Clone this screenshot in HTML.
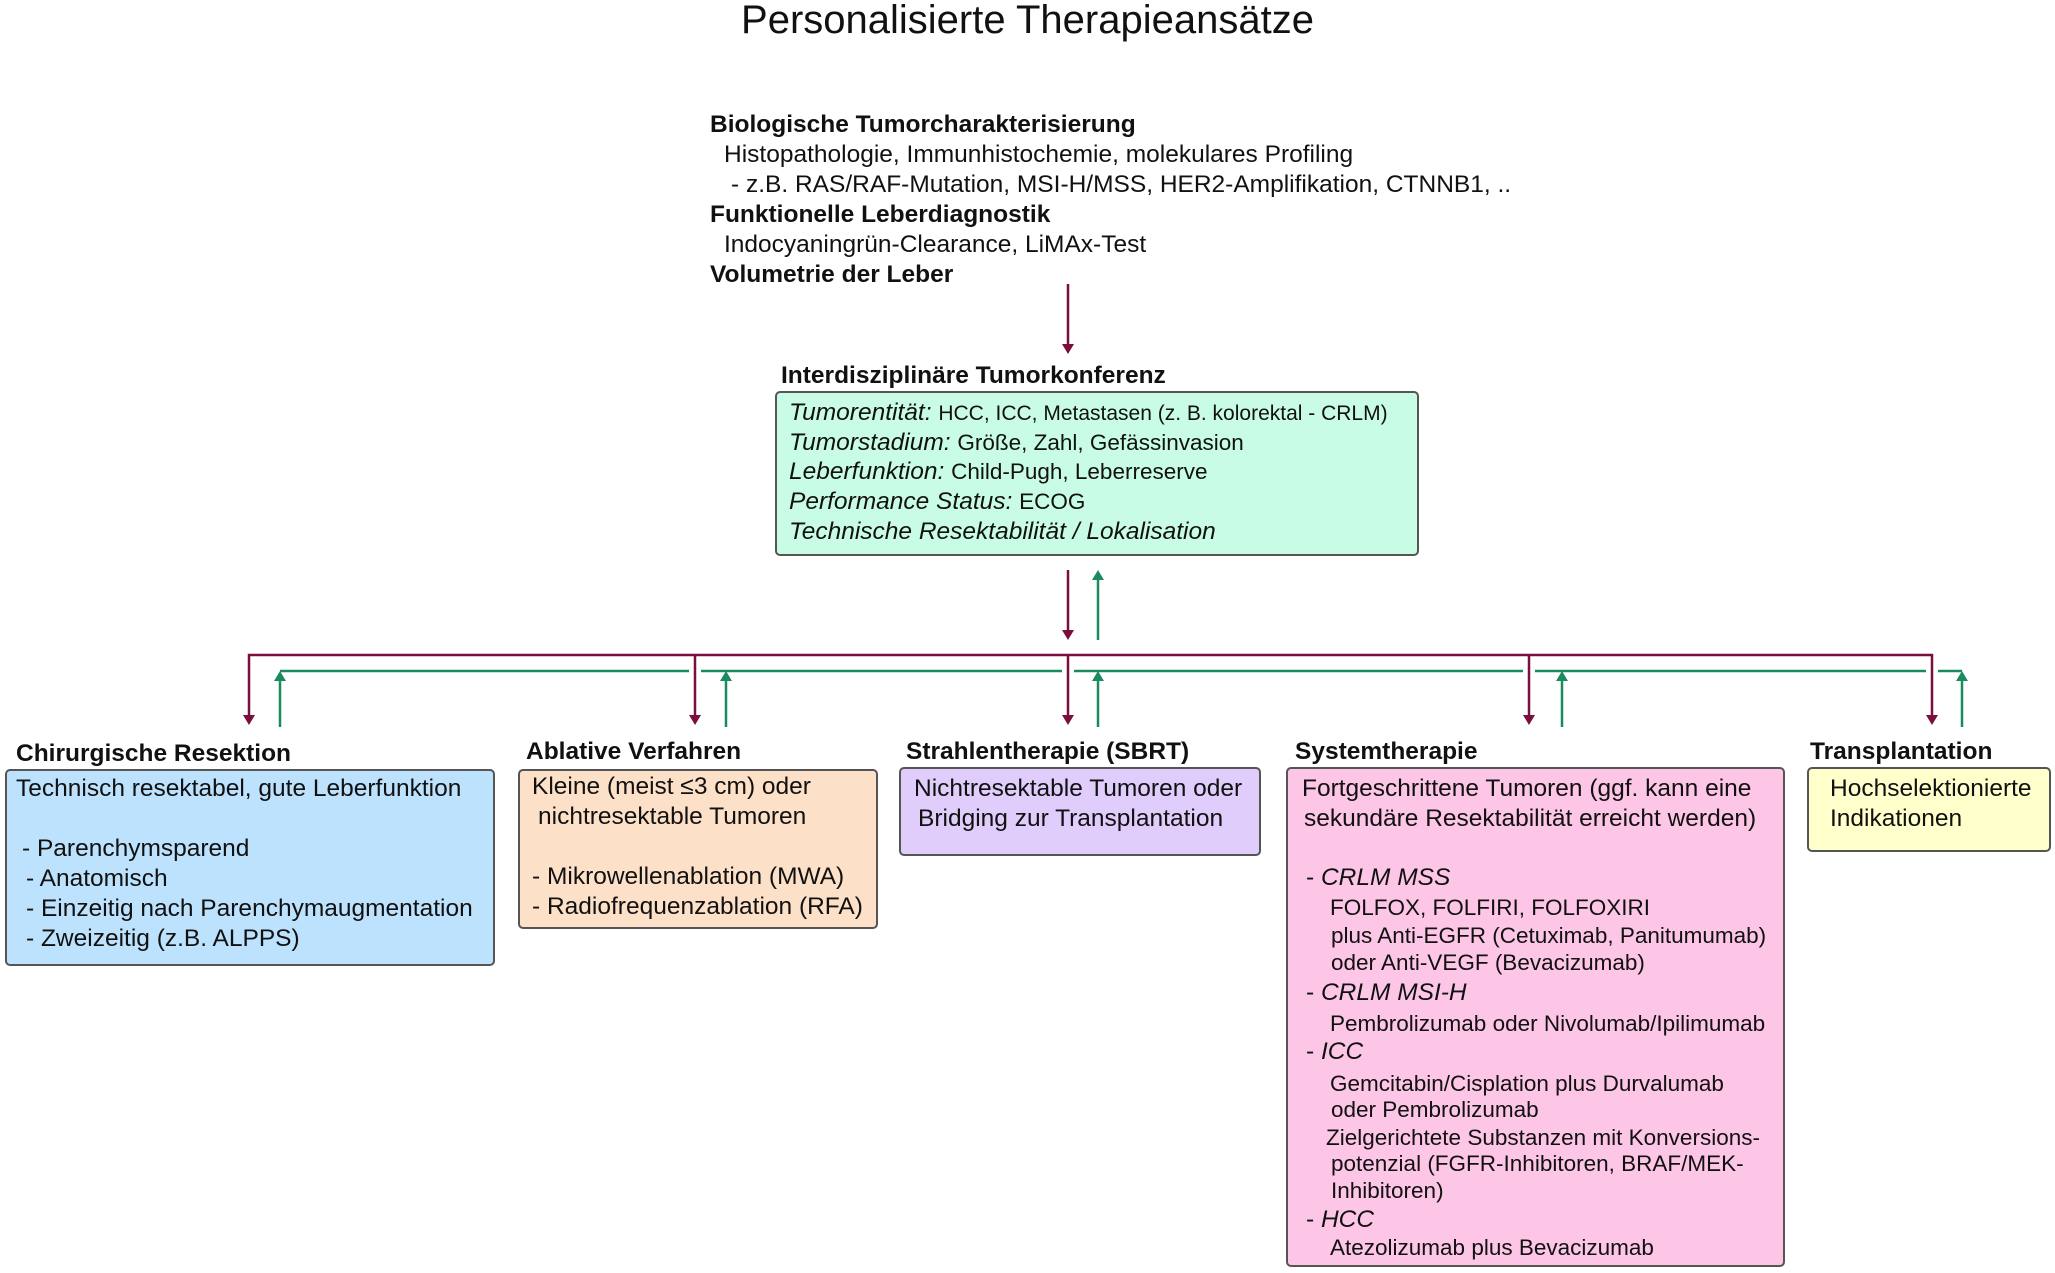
<!DOCTYPE html>
<html><head><meta charset="utf-8"><style>
body{margin:0;width:2055px;height:1273px;background:#fff;position:relative;overflow:hidden;font-family:"Liberation Sans",Arial,sans-serif;color:#111}
.a{position:absolute;white-space:nowrap}
.t{font-size:24.5px;line-height:30px}
.b{font-weight:bold}
.box{position:absolute;border:2px solid #555;border-radius:5px;box-sizing:border-box}
.s{font-size:22.5px}
i{font-style:italic}
</style></head><body>
<div class="a" style="left:0;width:2055px;text-align:center;top:-3px;font-size:40px;line-height:46px;">Personalisierte Therapieansätze</div>

<div class="a t b" style="left:710px;top:110px">Biologische Tumorcharakterisierung</div>
<div class="a t" style="left:724px;top:140px">Histopathologie, Immunhistochemie, molekulares Profiling</div>
<div class="a t" style="left:731px;top:170px">- z.B. RAS/RAF-Mutation, MSI-H/MSS, HER2-Amplifikation, CTNNB1, ..</div>
<div class="a t b" style="left:710px;top:200px">Funktionelle Leberdiagnostik</div>
<div class="a t" style="left:724px;top:230px">Indocyaningrün-Clearance, LiMAx-Test</div>
<div class="a t b" style="left:710px;top:260px">Volumetrie der Leber</div>

<svg class="a" style="left:0;top:0" width="2055" height="1273">
<g stroke="#7a0f3e" stroke-width="2.5" fill="none">
<line x1="1068" y1="284" x2="1068" y2="346"/>
<line x1="1068" y1="570" x2="1068" y2="632"/>
<polyline points="249,717 249,655 1932,655 1932,717"/>
<line x1="695" y1="655" x2="695" y2="717"/>
<line x1="1068" y1="655" x2="1068" y2="717"/>
<line x1="1529" y1="655" x2="1529" y2="717"/>
</g>
<g fill="#7a0f3e">
<polygon points="1062,344 1074,344 1068,354"/>
<polygon points="1062,630 1074,630 1068,640"/>
<polygon points="243,715 255,715 249,725"/>
<polygon points="689,715 701,715 695,725"/>
<polygon points="1062,715 1074,715 1068,725"/>
<polygon points="1523,715 1535,715 1529,725"/>
<polygon points="1926,715 1938,715 1932,725"/>
</g>
<g stroke="#1b8a5c" stroke-width="2.5" fill="none">
<line x1="1098" y1="640" x2="1098" y2="578"/>
<line x1="280" y1="671" x2="689" y2="671"/>
<line x1="701" y1="671" x2="1062" y2="671"/>
<line x1="1074" y1="671" x2="1523" y2="671"/>
<line x1="1535" y1="671" x2="1926" y2="671"/>
<line x1="1938" y1="671" x2="1962" y2="671"/>
<line x1="280" y1="727" x2="280" y2="679"/>
<line x1="726" y1="727" x2="726" y2="679"/>
<line x1="1098" y1="727" x2="1098" y2="679"/>
<line x1="1562" y1="727" x2="1562" y2="679"/>
<line x1="1962" y1="727" x2="1962" y2="679"/>
</g>
<g fill="#1b8a5c">
<polygon points="1092,580 1104,580 1098,570"/>
<polygon points="274,681 286,681 280,671"/>
<polygon points="720,681 732,681 726,671"/>
<polygon points="1092,681 1104,681 1098,671"/>
<polygon points="1556,681 1568,681 1562,671"/>
<polygon points="1956,681 1968,681 1962,671"/>
</g>
</svg>

<div class="a t b" style="left:781px;top:361px">Interdisziplinäre Tumorkonferenz</div>
<div class="box" style="left:775px;top:391px;width:644px;height:165px;background:#c8fce4"></div>
<div class="a t" style="left:789px;top:398px"><i>Tumorentität:</i> <span class="s" style="font-size:21px">HCC, ICC, Metastasen (z. B. kolorektal - CRLM)</span></div>
<div class="a t" style="left:789px;top:428px"><i>Tumorstadium:</i> <span class="s">Größe, Zahl, Gefässinvasion</span></div>
<div class="a t" style="left:789px;top:457px"><i>Leberfunktion:</i> <span class="s">Child-Pugh, Leberreserve</span></div>
<div class="a t" style="left:789px;top:487px"><i>Performance Status:</i> <span class="s">ECOG</span></div>
<div class="a t" style="left:789px;top:517px"><i>Technische Resektabilität / Lokalisation</i></div>

<div class="a t b" style="left:16px;top:739px">Chirurgische Resektion</div>
<div class="a t b" style="left:526px;top:737px">Ablative Verfahren</div>
<div class="a t b" style="left:906px;top:737px">Strahlentherapie (SBRT)</div>
<div class="a t b" style="left:1295px;top:737px">Systemtherapie</div>
<div class="a t b" style="left:1810px;top:737px">Transplantation</div>

<div class="box" style="left:5px;top:769px;width:490px;height:197px;background:#bde2fd"></div>
<div class="a t" style="left:16px;top:774px">Technisch resektabel, gute Leberfunktion</div>
<div class="a t" style="left:22px;top:834px">- Parenchymsparend</div>
<div class="a t" style="left:26px;top:864px">- Anatomisch</div>
<div class="a t" style="left:26px;top:894px">- Einzeitig nach Parenchymaugmentation</div>
<div class="a t" style="left:26px;top:924px">- Zweizeitig (z.B. ALPPS)</div>

<div class="box" style="left:518px;top:769px;width:360px;height:160px;background:#fde0c8"></div>
<div class="a t" style="left:532px;top:772px">Kleine (meist ≤3 cm) oder</div>
<div class="a t" style="left:538px;top:802px">nichtresektable Tumoren</div>
<div class="a t" style="left:532px;top:862px">- Mikrowellenablation (MWA)</div>
<div class="a t" style="left:532px;top:892px">- Radiofrequenzablation (RFA)</div>

<div class="box" style="left:899px;top:767px;width:362px;height:89px;background:#e0cdfc"></div>
<div class="a t" style="left:914px;top:774px">Nichtresektable Tumoren oder</div>
<div class="a t" style="left:918px;top:804px">Bridging zur Transplantation</div>

<div class="box" style="left:1286px;top:767px;width:499px;height:500px;background:#fdc6e6"></div>
<div class="a t" style="left:1302px;top:774px">Fortgeschrittene Tumoren (ggf. kann eine</div>
<div class="a t" style="left:1304px;top:804px">sekundäre Resektabilität erreicht werden)</div>
<div class="a t" style="left:1306px;top:863px">- <i>CRLM MSS</i></div>
<div class="a t s" style="left:1330px;top:893px">FOLFOX, FOLFIRI, FOLFOXIRI</div>
<div class="a t s" style="left:1331px;top:921px">plus Anti-EGFR (Cetuximab, Panitumumab)</div>
<div class="a t s" style="left:1331px;top:948px">oder Anti-VEGF (Bevacizumab)</div>
<div class="a t" style="left:1306px;top:978px">- <i>CRLM MSI-H</i></div>
<div class="a t s" style="left:1330px;top:1009px">Pembrolizumab oder Nivolumab/Ipilimumab</div>
<div class="a t" style="left:1306px;top:1037px">- <i>ICC</i></div>
<div class="a t s" style="left:1330px;top:1069px">Gemcitabin/Cisplation plus Durvalumab</div>
<div class="a t s" style="left:1331px;top:1095px">oder Pembrolizumab</div>
<div class="a t s" style="left:1326px;top:1123px">Zielgerichtete Substanzen mit Konversions-</div>
<div class="a t s" style="left:1331px;top:1149px">potenzial (FGFR-Inhibitoren, BRAF/MEK-</div>
<div class="a t s" style="left:1331px;top:1176px">Inhibitoren)</div>
<div class="a t" style="left:1306px;top:1205px">- <i>HCC</i></div>
<div class="a t s" style="left:1330px;top:1233px">Atezolizumab plus Bevacizumab</div>

<div class="box" style="left:1807px;top:767px;width:244px;height:85px;background:#ffffcc"></div>
<div class="a t" style="left:1830px;top:774px">Hochselektionierte</div>
<div class="a t" style="left:1830px;top:804px">Indikationen</div>
</body></html>
